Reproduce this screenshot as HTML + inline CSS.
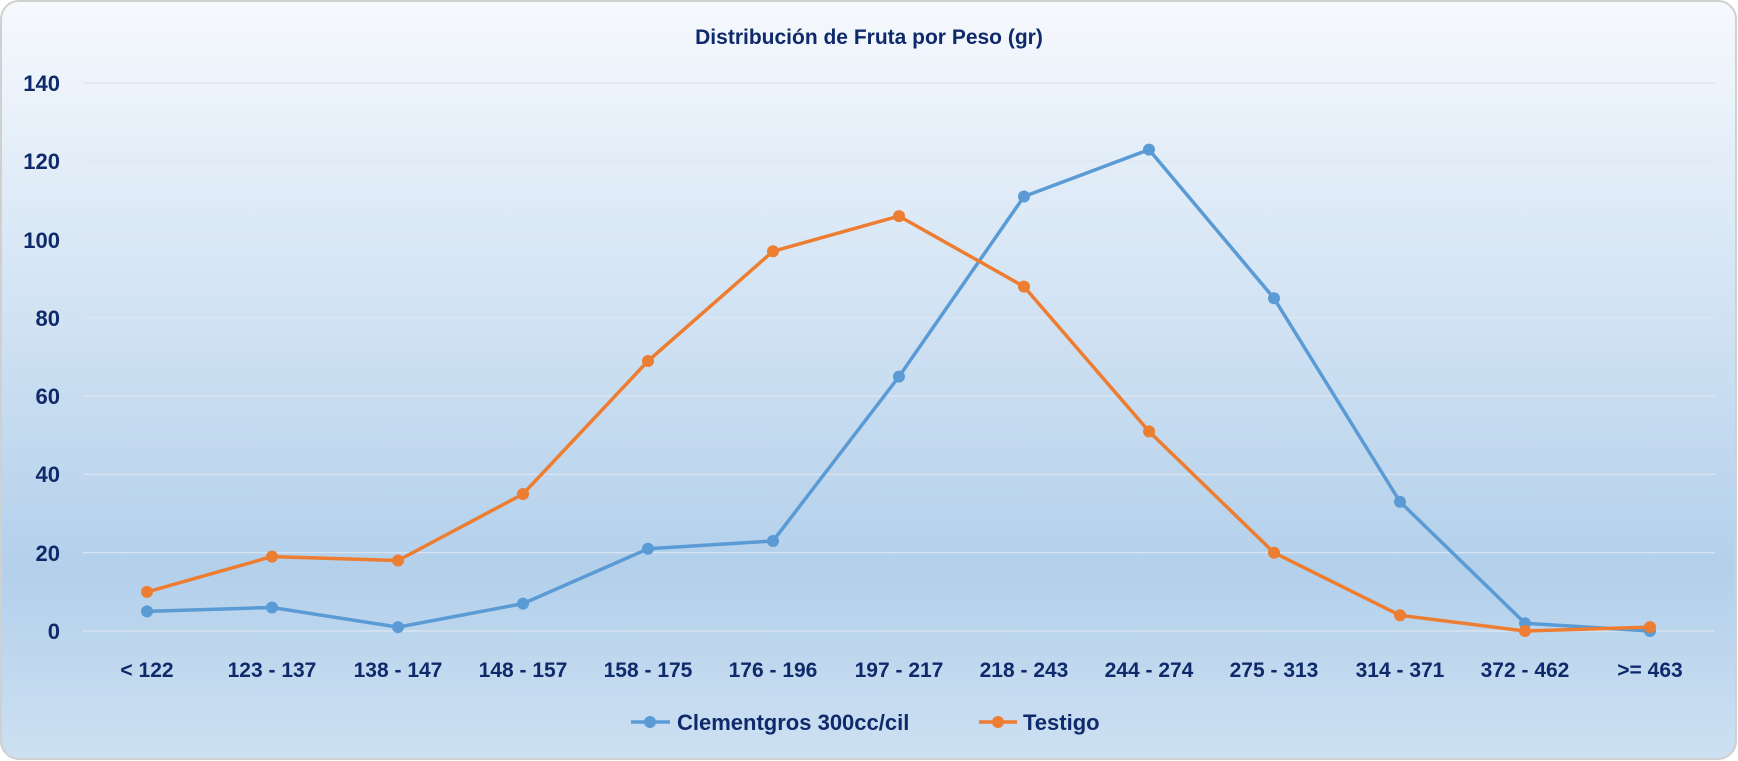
<!DOCTYPE html>
<html><head><meta charset="utf-8"><style>
html,body{margin:0;padding:0;width:1738px;height:761px;overflow:hidden;background:#fff}
</style></head><body>
<svg width="1738" height="761" xmlns="http://www.w3.org/2000/svg" font-family="Liberation Sans, sans-serif" font-weight="bold">
<defs>
<linearGradient id="bg" x1="0" y1="0" x2="0" y2="1">
<stop offset="0" stop-color="#f6f9fd"/>
<stop offset="0.75" stop-color="#b3d0eb"/>
<stop offset="1" stop-color="#cde0f2"/>
</linearGradient>
</defs>
<rect x="1" y="1" width="1735" height="758" rx="18" fill="url(#bg)" stroke="#d0d0d0" stroke-width="2"/>
<text x="869" y="44" text-anchor="middle" font-size="21" fill="#0f2a6b">Distribución de Fruta  por Peso (gr)</text>
<g stroke="#dce6f2" stroke-width="1.2">
<line x1="83" x2="1715" y1="83" y2="83"/><line x1="83" x2="1715" y1="161.3" y2="161.3"/>
<line x1="83" x2="1715" y1="239.6" y2="239.6"/><line x1="83" x2="1715" y1="317.9" y2="317.9"/>
<line x1="83" x2="1715" y1="396.1" y2="396.1"/><line x1="83" x2="1715" y1="474.4" y2="474.4"/>
<line x1="83" x2="1715" y1="552.7" y2="552.7"/><line x1="83" x2="1715" y1="631" y2="631"/>
</g>
<g font-size="22" fill="#0f2a6b" text-anchor="end">
<text x="60" y="91">140</text><text x="60" y="169">120</text><text x="60" y="248">100</text>
<text x="60" y="326">80</text><text x="60" y="404">60</text><text x="60" y="482">40</text>
<text x="60" y="561">20</text><text x="60" y="639">0</text>
</g>
<g font-size="21" fill="#0f2a6b" text-anchor="middle">
<text x="147" y="677">&lt; 122</text><text x="272" y="677">123 - 137</text><text x="398" y="677">138 - 147</text>
<text x="523" y="677">148 - 157</text><text x="648" y="677">158 - 175</text><text x="773" y="677">176 - 196</text>
<text x="899" y="677">197 - 217</text><text x="1024" y="677">218 - 243</text><text x="1149" y="677">244 - 274</text>
<text x="1274" y="677">275 - 313</text><text x="1400" y="677">314 - 371</text><text x="1525" y="677">372 - 462</text>
<text x="1650" y="677">&gt;= 463</text>
</g>
<g id="b" fill="#5b9bd5" stroke="#5b9bd5">
<polyline fill="none" stroke-width="3.5" stroke-linejoin="round" points="147,611.4 272,607.5 398,627.1 523,603.6 648,548.8 773,541 899,376.6 1024,196.5 1149,149.6 1274,298.3 1400,501.8 1525,623.2 1650,631"/>
<g stroke="none">
<circle cx="147" cy="611.4" r="6"/><circle cx="272" cy="607.5" r="6"/><circle cx="398" cy="627.1" r="6"/><circle cx="523" cy="603.6" r="6"/><circle cx="648" cy="548.8" r="6"/><circle cx="773" cy="541" r="6"/><circle cx="899" cy="376.6" r="6"/><circle cx="1024" cy="196.5" r="6"/><circle cx="1149" cy="149.6" r="6"/><circle cx="1274" cy="298.3" r="6"/><circle cx="1400" cy="501.8" r="6"/><circle cx="1525" cy="623.2" r="6"/><circle cx="1650" cy="631" r="6"/>
</g></g>
<g fill="#ed7d31" stroke="#ed7d31">
<polyline fill="none" stroke-width="3.5" stroke-linejoin="round" points="147,591.9 272,556.6 398,560.5 523,494 648,361 773,251.3 899,216.1 1024,286.6 1149,431.4 1274,552.7 1400,615.3 1525,631 1650,627.1"/>
<g stroke="none">
<circle cx="147" cy="591.9" r="6"/><circle cx="272" cy="556.6" r="6"/><circle cx="398" cy="560.5" r="6"/><circle cx="523" cy="494" r="6"/><circle cx="648" cy="361" r="6"/><circle cx="773" cy="251.3" r="6"/><circle cx="899" cy="216.1" r="6"/><circle cx="1024" cy="286.6" r="6"/><circle cx="1149" cy="431.4" r="6"/><circle cx="1274" cy="552.7" r="6"/><circle cx="1400" cy="615.3" r="6"/><circle cx="1525" cy="631" r="6"/><circle cx="1650" cy="627.1" r="6"/>
</g></g>
<line x1="631" x2="670" y1="722" y2="722" stroke="#5b9bd5" stroke-width="3.5"/><circle cx="650" cy="722" r="6" fill="#5b9bd5"/>
<text x="677" y="730" font-size="22" fill="#0f2a6b">Clementgros 300cc/cil</text>
<line x1="979" x2="1017" y1="722" y2="722" stroke="#ed7d31" stroke-width="3.5"/><circle cx="998" cy="722" r="6" fill="#ed7d31"/>
<text x="1023" y="730" font-size="22" fill="#0f2a6b">Testigo</text>
</svg>
</body></html>
